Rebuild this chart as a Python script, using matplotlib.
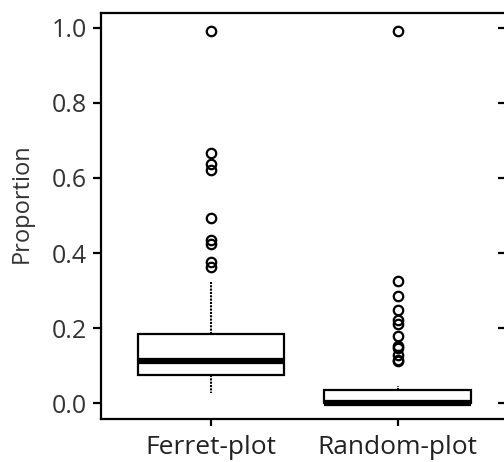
import matplotlib
matplotlib.use("Agg")
import matplotlib.pyplot as plt

plt.rcParams['font.family'] = ['Open Sans', 'DejaVu Sans']

categories = ["Ferret-plot", "Random-plot"]
whislo = [0.028, 0.0]
q1 = [0.0755, 0.0]
medians = [0.114, 0.0]
q3 = [0.186, 0.036]
whishi = [0.324, 0.047]
fliers = [
    [0.99, 0.666, 0.637, 0.622, 0.494, 0.435, 0.424, 0.377, 0.362],
    [0.99, 0.327, 0.285, 0.248, 0.222, 0.212, 0.180, 0.154, 0.147, 0.128, 0.116, 0.112],
]
yticks = [0.0, 0.2, 0.4, 0.6, 0.8, 1.0]
ytick_labels = ["0.0", "0.2", "0.4", "0.6", "0.8", "1.0"]

W, H = 504, 462
fig = plt.figure(figsize=(W / 100, H / 100), dpi=100)
left, right, top, bottom = 100.5, 506, 12.5, 418.5
ax = fig.add_axes([left / W, 1 - bottom / H, (right - left) / W, (bottom - top) / H])

stats = []
for i, c in enumerate(categories):
    stats.append(dict(label=c, whislo=whislo[i], q1=q1[i], med=medians[i],
                      q3=q3[i], whishi=whishi[i], fliers=fliers[i]))

ax.bxp(stats, positions=[1, 2], widths=0.785, patch_artist=True, showcaps=False,
       boxprops=dict(facecolor='white', edgecolor='black', linewidth=1.6),
       medianprops=dict(color='black', linewidth=4.5, solid_capstyle='butt'),
       whiskerprops=dict(color='black', linewidth=1.5, linestyle=(0, (1, 0.6))),
       flierprops=dict(marker='o', markerfacecolor='none', markeredgecolor='black',
                       markersize=6.8, markeredgewidth=1.6))

ax.set_xlim(0.408, 2.58)
ax.set_ylim(-0.04, 1.04)
ax.set_yticks(yticks)
ax.set_yticklabels(ytick_labels)
ax.set_xticks([1, 2])
ax.set_xticklabels(categories)

for s in ax.spines.values():
    s.set_linewidth(1.6)

ax.tick_params(axis='y', direction='out', length=6, width=1.6, pad=3.5,
               labelsize=18, labelcolor='#333333')
ax.tick_params(axis='x', direction='out', length=5, width=1.6, pad=7,
               labelsize=19, labelcolor='#222222')
ax.set_ylabel("Proportion", fontsize=17, color='#333333')
ax.yaxis.set_label_coords((34 - left) / (right - left), (bottom - 203) / (bottom - top))

ax2 = ax.twinx()
ax2.set_ylim(-0.04, 1.04)
ax2.set_yticks(yticks)
ax2.tick_params(axis='y', direction='in', length=6, width=1.6, labelright=False)
for s in ax2.spines.values():
    s.set_visible(False)

fig.savefig("out.png", dpi=100)
